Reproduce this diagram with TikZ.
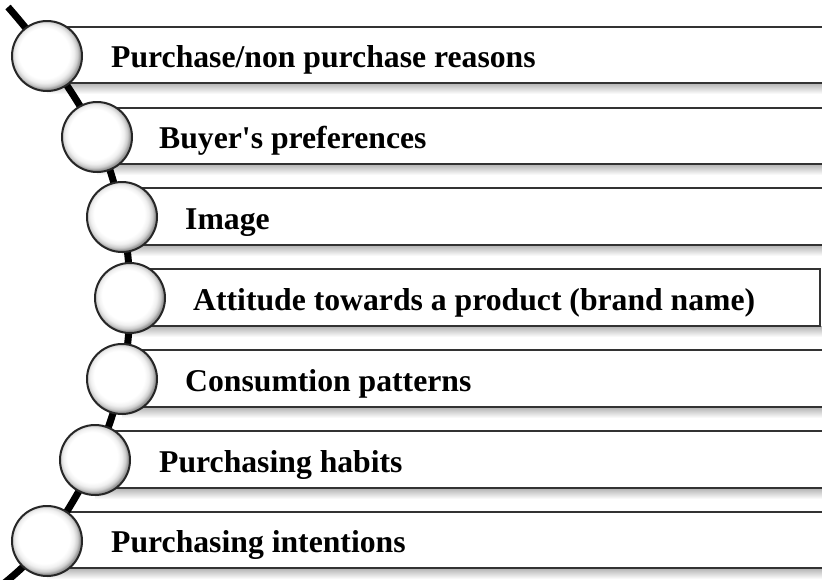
\documentclass[tikz,border=0pt]{standalone}
\usepackage{fontspec}
\setmainfont{Liberation Serif}
\newfontfamily\plainserif{Liberation Serif}
\pgfdeclareradialshading{ballshade}{\pgfpoint{-3bp}{3bp}}{color(0bp)=(white); color(18bp)=(white); color(21bp)=(black!6); color(23.5bp)=(black!20); color(25bp)=(black!40); color(50bp)=(black!40)}
\tikzset{
  boxline/.style={draw=black!80, line width=2pt, fill=white},
  boxshadow/.style={top color=black!30, bottom color=white, draw=none},
  spine/.style={draw=black, line width=7pt},
  ball/.style={circle, minimum size=70pt, inner sep=0pt, draw=black!85, line width=2pt, shade, shading=ballshade},
  lbl/.style={anchor=base west, inner sep=0pt, font=\fontsize{31.7}{38}\selectfont\bfseries}
}
\begin{document}
\begin{tikzpicture}[x=1pt,y=-1pt]
\useasboundingbox (0,0) rectangle (822,579);
\clip (0,0) rectangle (822,579);
% circle centres
\coordinate (p1) at (47,56);
\coordinate (p2) at (97,137);
\coordinate (p3) at (122,217);
\coordinate (p4) at (130,298);
\coordinate (p5) at (122,379);
\coordinate (p6) at (95,460);
\coordinate (p7) at (47,541);
\coordinate (top) at (8,7);
\coordinate (bot) at (2,585);
% shadows under the boxes
\shade[boxshadow] (47,83) rectangle (840,94);
\shade[boxshadow] (97,164) rectangle (840,175);
\shade[boxshadow] (122,245) rectangle (840,256);
\shade[boxshadow] (130,326) rectangle (840,337);
\shade[boxshadow] (122,407) rectangle (840,418);
\shade[boxshadow] (95,488) rectangle (840,499);
\shade[boxshadow] (47,568) rectangle (840,579);
% boxes
\draw[boxline] (47,27) rectangle (840,83);
\draw[boxline] (97,108) rectangle (840,164);
\draw[boxline] (122,188) rectangle (840,245);
\draw[boxline] (130,269) rectangle (820,326);
\draw[boxline] (122,350) rectangle (840,407);
\draw[boxline] (95,431) rectangle (840,488);
\draw[boxline] (47,512) rectangle (840,568);
% spine
\draw[spine] plot[smooth, tension=0.6] coordinates {(top) (p1) (p2) (p3) (p4) (p5) (p6) (p7) (bot)};
% balls
\node[ball] (c1) at (p1) {};
\node[ball] (c2) at (p2) {};
\node[ball] (c3) at (p3) {};
\node[ball] (c4) at (p4) {};
\node[ball] (c5) at (p5) {};
\node[ball] (c6) at (p6) {};
\node[ball] (c7) at (p7) {};
% labels
\node[lbl] (t1) at (111,67) {Purchase/non purchase reasons};
\node[lbl] (t2) at (159,148) {Buyer{\plainserif\bfseries '}s preferences};
\node[lbl] (t3) at (185,229) {Image};
\node[lbl] (t4) at (193,310) {Attitude towards a product (brand name)};
\node[lbl] (t5) at (185,391) {Consumtion patterns};
\node[lbl] (t6) at (159,472) {Purchasing habits};
\node[lbl] (t7) at (111,552) {Purchasing intentions};
\end{tikzpicture}
\end{document}
